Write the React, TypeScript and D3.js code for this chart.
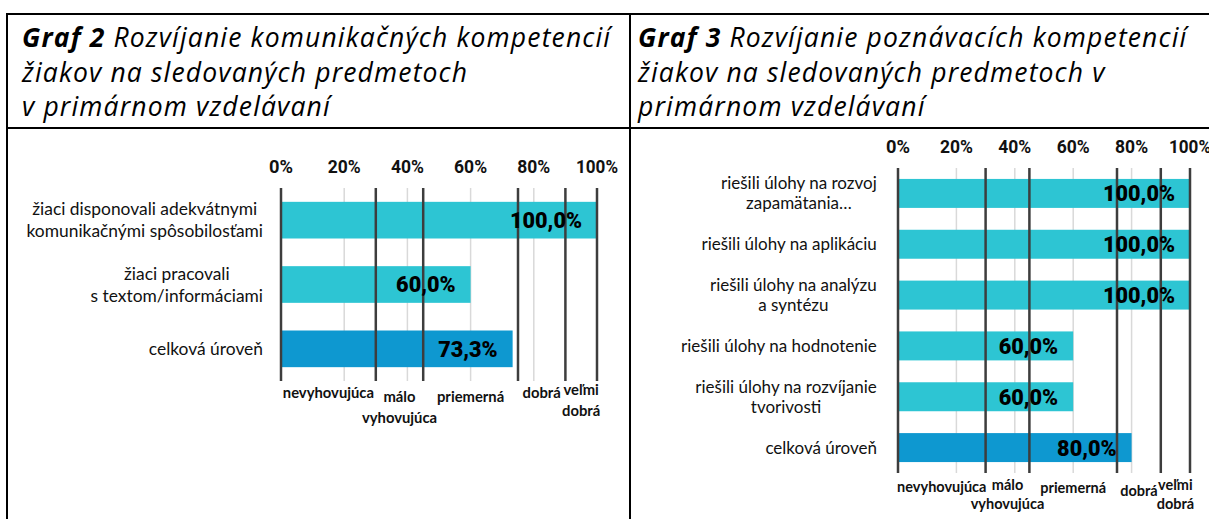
import React from 'react';
import * as d3 from 'd3';

// ---- data ----
const graf2Categories = [
  ['žiaci disponovali adekvátnymi', 'komunikačnými spôsobilosťami'],
  ['žiaci pracovali', 's textom/informáciami'],
  ['celková úroveň'],
];
const graf2Values = [100, 60, 73.3];

const graf3Categories = [
  ['riešili úlohy na rozvoj', 'zapamätania…'],
  ['riešili úlohy na aplikáciu'],
  ['riešili úlohy na analýzu', 'a syntézu'],
  ['riešili úlohy na hodnotenie'],
  ['riešili úlohy na rozvíjanie', 'tvorivosti'],
  ['celková úroveň'],
];
const graf3Values = [100, 100, 100, 60, 60, 80];

const tickValues = [0, 20, 40, 60, 80, 100];
const levelBounds = [0, 30, 45, 75, 90, 100];
const levelNames = [['nevyhovujúca'], ['málo', 'vyhovujúca'], ['priemerná'], ['dobrá'], ['veľmi', 'dobrá']];

const graf2Title = ['Graf 2', ' Rozvíjanie komunikačných kompetencií', 'žiakov na sledovaných predmetoch', 'v primárnom vzdelávaní'];
const graf3Title = ['Graf 3', ' Rozvíjanie poznávacích kompetencií', 'žiakov na sledovaných predmetoch v', 'primárnom vzdelávaní'];

const LIGHT = '#2dc5d3';
const DARK = '#0e98d0';
const catFamily = 'Lato, "Open Sans", sans-serif';
const titleFamily = '"Open Sans", Lato, sans-serif';
const numFamily = 'Roboto, "DejaVu Sans", sans-serif';

// measure text so that wrapped labels can be right-aligned as a block
let ctx: CanvasRenderingContext2D | null = null;
function measure(s: string, font: string) {
  if (!ctx) ctx = document.createElement('canvas').getContext('2d');
  if (!ctx) return s.length * 8;
  ctx.font = font;
  return ctx.measureText(s).width;
}

// condensed look for the numbers: squeeze each string to a width based on its glyphs
const squeeze = (s: string, digit: number, pct: number, comma: number) =>
  s.split('').reduce((w, ch) => w + (ch === '%' ? pct : ch === ',' ? comma : digit), 0);

type Layout = {
  x0: number; x1: number; yTop: number; yBottom: number; tickY: number;
  labelRight: number; catFont: number; catGap: number;
  levelY: number[]; levelGap: number; levelFont: number;
};

const Panel: React.FC<{ cats: string[][]; values: number[]; lay: Layout }> = ({ cats, values, lay }) => {
  const x = d3.scaleLinear().domain([0, 100]).range([lay.x0, lay.x1]);
  const y = d3.scaleBand<number>()
    .domain(d3.range(values.length))
    .range([lay.yTop, lay.yBottom])
    .paddingInner(0.43)
    .paddingOuter(0.215);
  const last = values.length - 1;
  const catFont = `${lay.catFont}px ${catFamily}`;

  return (
    <g>
      {/* light gridlines */}
      {tickValues.filter(t => !levelBounds.includes(t)).map(t => (
        <line key={'g' + t} x1={x(t)} x2={x(t)} y1={lay.yTop} y2={lay.yBottom} stroke="#d9d9d9" strokeWidth={1.5} />
      ))}
      {/* tick labels */}
      {tickValues.map(t => {
        const s = `${t}%`;
        return (
          <text key={'t' + t} x={x(t)} y={lay.tickY} dy="0.36em" textAnchor="middle"
            fontFamily={numFamily} fontWeight="bold" fontSize={17.5} fill="#111"
            textLength={squeeze(s, 9, 15, 4)} lengthAdjust="spacingAndGlyphs">{s}</text>
        );
      })}
      {/* bars */}
      {values.map((v, i) => (
        <rect key={'b' + i} x={x(0)} y={y(i)} width={x(v) - x(0)} height={y.bandwidth()}
          fill={i === last ? DARK : LIGHT} />
      ))}
      {/* level boundaries */}
      {levelBounds.map(b => (
        <line key={'l' + b} x1={x(b)} x2={x(b)} y1={lay.yTop} y2={lay.yBottom} stroke="#3d3d3d" strokeWidth={2.5} />
      ))}
      {/* value labels */}
      {values.map((v, i) => {
        const s = `${v.toFixed(1).replace('.', ',')}%`;
        return (
          <text key={'v' + i} x={x(v) - 15} y={(y(i) as number) + y.bandwidth() / 2} dy="0.36em" textAnchor="end"
            fontFamily={numFamily} fontWeight={900} fontSize={22} fill="#000"
            textLength={squeeze(s, 12.5, 17, 5)} lengthAdjust="spacingAndGlyphs">{s}</text>
        );
      })}
      {/* category labels: block right-aligned, lines centred */}
      {cats.map((lines, i) => {
        const cy = (y(i) as number) + y.bandwidth() / 2;
        const widest = Math.max(...lines.map(l => measure(l, catFont)));
        const cx = lay.labelRight - widest / 2;
        return (
          <text key={'c' + i} x={cx} textAnchor="middle" fontFamily={catFamily} fontSize={lay.catFont} fill="#111">
            {lines.map((l, k) => (
              <tspan key={k} x={cx} y={cy + (k - (lines.length - 1) / 2) * lay.catGap} dy="0.35em">{l}</tspan>
            ))}
          </text>
        );
      })}
      {/* level names under the chart */}
      {levelNames.map((lines, i) => {
        const cx = x((levelBounds[i] + levelBounds[i + 1]) / 2);
        return (
          <text key={'n' + i} x={cx} textAnchor="middle" fontFamily={catFamily} fontWeight="bold"
            fontSize={lay.levelFont} fill="#111">
            {lines.map((l, k) => (
              <tspan key={k} x={cx} y={lay.levelY[i] + k * lay.levelGap} dy="0.35em">{l}</tspan>
            ))}
          </text>
        );
      })}
    </g>
  );
};

const Title: React.FC<{ lines: string[]; x: number }> = ({ lines, x }) => (
  <text fontFamily={titleFamily} fontStyle="italic" fontSize={26.5} letterSpacing={1.15} fill="#000">
    <tspan x={x} y={47} fontWeight="bold">{lines[0]}</tspan>
    <tspan>{lines[1]}</tspan>
    <tspan x={x} y={82}>{lines[2]}</tspan>
    <tspan x={x} y={116}>{lines[3]}</tspan>
  </text>
);

const leftLayout: Layout = {
  x0: 281, x1: 597, yTop: 188, yBottom: 381, tickY: 167,
  labelRight: 263, catFont: 17.4, catGap: 22,
  levelY: [393, 397, 397, 393, 390], levelGap: 20.5, levelFont: 14.8,
};
const rightLayout: Layout = {
  x0: 898, x1: 1190, yTop: 168, yBottom: 473, tickY: 147,
  labelRight: 877, catFont: 17, catGap: 20,
  levelY: [487, 485, 488, 491, 485], levelGap: 19, levelFont: 14.5,
};

export default function App() {
  return (
    <svg width={1209} height={519} style={{ position: 'absolute', left: 0, top: 0, background: '#fff' }}>
      <rect width={1209} height={519} fill="#fff" />
      <Title lines={graf2Title} x={22} />
      <Title lines={graf3Title} x={638} />
      <Panel cats={graf2Categories} values={graf2Values} lay={leftLayout} />
      <Panel cats={graf3Categories} values={graf3Values} lay={rightLayout} />
      {/* table borders */}
      <g stroke="#000" strokeWidth={2}>
        <line x1={6} x2={1209} y1={14} y2={14} />
        <line x1={6} x2={1209} y1={128} y2={128} />
        <line x1={7} x2={7} y1={13} y2={519} />
        <line x1={630} x2={630} y1={13} y2={519} />
      </g>
    </svg>
  );
}
